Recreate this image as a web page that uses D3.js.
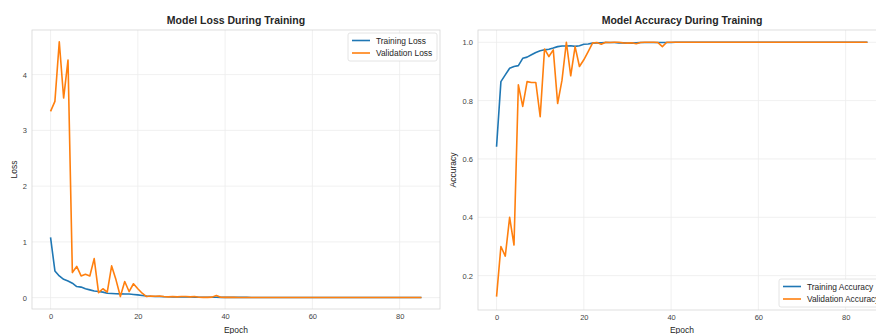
<!DOCTYPE html>
<html>
<head>
<meta charset="utf-8">
<script src="https://cdn.jsdelivr.net/npm/d3@7"></script>
<style>
  html, body { margin: 0; padding: 0; background: #ffffff; overflow: hidden; }
  svg { display: block; font-family: "Liberation Sans", Arial, sans-serif; }
</style>
</head>
<body>
<svg id="chart" width="876" height="334"></svg>
<script>
// Training history, one value per epoch (0..85)
const trainLoss = [1.08,0.48,0.39,0.33,0.30,0.26,0.20,0.19,0.16,0.14,0.12,0.11,0.10,0.08,0.075,0.07,0.068,0.065,0.066,0.058,
  0.05,0.04,0.03,0.025,0.022,0.02,0.018,0.016,0.015,0.014,0.013,0.012,0.011,0.010,0.009,0.008,0.008,0.007,0.007,0.006,
  0.006,0.006,0.005,0.005,0.005,0.005,0.004,0.004,0.004,0.004,0.004,0.004,0.003,0.003,0.003,0.003,0.003,0.003,0.003,0.003,
  0.003,0.003,0.003,0.003,0.003,0.002,0.002,0.002,0.002,0.002,0.002,0.002,0.002,0.002,0.002,0.002,0.002,0.002,0.002,0.002,
  0.002,0.002,0.002,0.002,0.002,0.002];
const valLoss = [3.34,3.52,4.59,3.58,4.26,0.45,0.56,0.39,0.42,0.39,0.70,0.09,0.16,0.10,0.57,0.32,0.02,0.29,0.11,0.25,
  0.16,0.08,0.02,0.03,0.025,0.03,0.02,0.015,0.02,0.015,0.02,0.02,0.015,0.02,0.008,0.006,0.005,0.01,0.04,0.008,
  0.006,0.005,0.005,0.004,0.004,0.004,0.004,0.003,0.003,0.003,0.003,0.003,0.003,0.003,0.003,0.003,0.003,0.002,0.002,0.002,
  0.002,0.002,0.002,0.002,0.002,0.002,0.002,0.002,0.002,0.002,0.002,0.002,0.002,0.002,0.002,0.002,0.002,0.002,0.002,0.002,
  0.002,0.002,0.002,0.002,0.002,0.002];
const trainAcc = [0.642,0.865,0.888,0.911,0.917,0.920,0.945,0.949,0.957,0.965,0.971,0.974,0.976,0.980,0.985,0.987,0.987,0.988,0.986,0.988,
  0.993,0.994,0.997,0.998,0.998,0.999,0.999,0.999,0.998,0.998,0.997,0.997,0.998,0.999,0.999,0.999,0.999,0.999,0.999,0.999,
  0.999,1.0,1.0,1.0,1.0,1.0,1.0,1.0,1.0,1.0,1.0,1.0,1.0,1.0,1.0,1.0,1.0,1.0,1.0,1.0,
  1.0,1.0,1.0,1.0,1.0,1.0,1.0,1.0,1.0,1.0,1.0,1.0,1.0,1.0,1.0,1.0,1.0,1.0,1.0,1.0,
  1.0,1.0,1.0,1.0,1.0,1.0];
const valAcc = [0.128,0.300,0.267,0.400,0.305,0.854,0.780,0.865,0.862,0.862,0.745,0.977,0.951,0.974,0.790,0.870,1.0,0.885,0.985,0.917,
  0.940,0.968,0.997,0.999,0.993,1.0,0.999,1.0,1.0,0.998,0.997,0.998,0.995,0.999,1.0,1.0,1.0,0.999,0.985,1.0,
  1.0,1.0,1.0,1.0,1.0,1.0,1.0,1.0,1.0,1.0,1.0,1.0,1.0,1.0,1.0,1.0,1.0,1.0,1.0,1.0,
  1.0,1.0,1.0,1.0,1.0,1.0,1.0,1.0,1.0,1.0,1.0,1.0,1.0,1.0,1.0,1.0,1.0,1.0,1.0,1.0,
  1.0,1.0,1.0,1.0,1.0,1.0];

const xTicks = [0, 20, 40, 60, 80];
const lossTicks = [0, 1, 2, 3, 4];
const accTicks = [0.2, 0.4, 0.6, 0.8, 1.0];

const BLUE = "#1f77b4", ORANGE = "#ff7f0e";
const svg = d3.select("#chart");

function panel(opts) {
  const { left, right, top, bottom, yDomain, yTicks, yFmt, series, title, yLabel, legendPos } = opts;
  const n = series[0].values.length;
  const x = d3.scaleLinear().domain([-(n - 1) * 0.05, (n - 1) * 1.05]).range([left, right]);
  const y = d3.scaleLinear().domain(yDomain).range([bottom, top]);
  const g = svg.append("g");

  // grid
  g.append("g").selectAll("line").data(xTicks).join("line")
    .attr("x1", d => x(d)).attr("x2", d => x(d)).attr("y1", top).attr("y2", bottom)
    .attr("stroke", "#ececec").attr("stroke-width", 0.8);
  g.append("g").selectAll("line").data(yTicks).join("line")
    .attr("x1", left).attr("x2", right).attr("y1", d => y(d)).attr("y2", d => y(d))
    .attr("stroke", "#ececec").attr("stroke-width", 0.8);

  // frame
  g.append("rect").attr("x", left).attr("y", top).attr("width", right - left).attr("height", bottom - top)
    .attr("fill", "none").attr("stroke", "#d6d6d6").attr("stroke-width", 0.8);

  // axes
  const xAxis = d3.axisBottom(x).tickValues(xTicks).tickSize(0).tickPadding(5).tickFormat(d3.format("d"));
  const gx = g.append("g").attr("transform", `translate(0,${bottom})`).call(xAxis);
  gx.select(".domain").remove();
  gx.selectAll("text").attr("font-size", 7.5).attr("fill", "#444").attr("font-family", "Liberation Sans, Arial, sans-serif");

  const yAxis = d3.axisLeft(y).tickValues(yTicks).tickSize(0).tickPadding(5).tickFormat(yFmt);
  const gy = g.append("g").attr("transform", `translate(${left},0)`).call(yAxis);
  gy.select(".domain").remove();
  gy.selectAll("text").attr("font-size", 7.5).attr("fill", "#444").attr("font-family", "Liberation Sans, Arial, sans-serif");

  // clip region for lines
  const cid = "clip" + Math.round(left);
  svg.append("clipPath").attr("id", cid).append("rect")
    .attr("x", left).attr("y", top).attr("width", right - left).attr("height", bottom - top);

  const line = d3.line().x((d, i) => x(i)).y(d => y(d));
  series.forEach(s => {
    g.append("path").datum(s.values).attr("d", line)
      .attr("fill", "none").attr("stroke", s.color).attr("stroke-width", 1.6)
      .attr("stroke-linejoin", "round").attr("clip-path", `url(#${cid})`);
  });

  // title and axis labels
  g.append("text").attr("x", (left + right) / 2).attr("y", 24).attr("text-anchor", "middle")
    .attr("font-size", 10.5).attr("font-weight", "bold").attr("fill", "#262626").text(title);
  g.append("text").attr("x", (left + right) / 2).attr("y", 333).attr("text-anchor", "middle")
    .attr("font-size", 8.5).attr("fill", "#262626").text("Epoch");
  g.append("text").attr("transform", `translate(${opts.yLabelX},${(top + bottom) / 2}) rotate(-90)`)
    .attr("text-anchor", "middle").attr("font-size", 8.5).attr("fill", "#262626").text(yLabel);

  // legend
  const lg = g.append("g").attr("transform", `translate(${legendPos[0]},${legendPos[1]})`);
  lg.append("rect").attr("x", 0).attr("y", 0).attr("width", legendPos[2]).attr("height", 28).attr("rx", 2)
    .attr("fill", "#ffffff").attr("fill-opacity", 0.85).attr("stroke", "#dddddd").attr("stroke-width", 0.8);
  series.forEach((s, i) => {
    const yy = 7.5 + i * 12.5;
    lg.append("line").attr("x1", 4).attr("x2", 22).attr("y1", yy).attr("y2", yy)
      .attr("stroke", s.color).attr("stroke-width", 1.6);
    lg.append("text").attr("x", 28).attr("y", yy + 3).attr("font-size", 8.4).attr("fill", "#262626").text(s.name);
  });
}

panel({
  left: 32, right: 440, top: 30, bottom: 309,
  yDomain: [-0.203, 4.80], yTicks: lossTicks, yFmt: d3.format("d"),
  series: [{ name: "Training Loss", values: trainLoss, color: BLUE },
           { name: "Validation Loss", values: valLoss, color: ORANGE }],
  title: "Model Loss During Training", yLabel: "Loss", yLabelX: 17,
  legendPos: [348, 33, 89]
});

panel({
  left: 478, right: 886, top: 30, bottom: 310,
  yDomain: [0.0823, 1.042], yTicks: accTicks, yFmt: d3.format(".1f"),
  series: [{ name: "Training Accuracy", values: trainAcc, color: BLUE },
           { name: "Validation Accuracy", values: valAcc, color: ORANGE }],
  title: "Model Accuracy During Training", yLabel: "Accuracy", yLabelX: 456,
  legendPos: [779, 279, 110]
});
</script>
</body>
</html>
